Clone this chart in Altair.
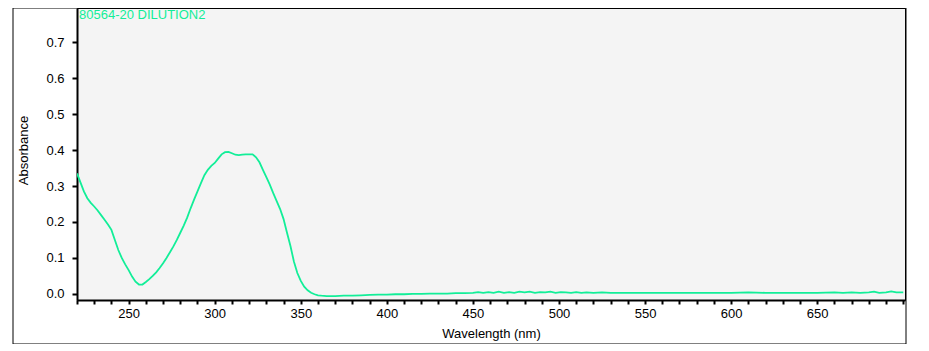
import altair as alt
import pandas as pd

# Wavelength (nm) and absorbance
wavelength = [220, 222, 224, 226, 228, 230, 232, 234, 236, 238, 240, 242, 244, 246, 248,
              250, 252, 254, 256, 258, 260, 262, 264, 266, 268, 270, 272, 274, 276, 278,
              280, 282, 284, 286, 288, 290, 292, 294, 296, 298, 300, 302, 304, 306, 308,
              310, 312, 314, 316, 318, 320, 322, 324, 326, 328, 330, 332, 334, 336, 338,
              340, 342, 344, 346, 348, 350, 352, 354, 356, 358, 360, 362, 365, 370, 375,
              380, 385, 390, 395, 400, 405, 410, 415, 420, 425, 430, 435, 440, 445, 450,
              453, 456, 459, 462, 465, 468, 471, 474, 477, 480, 483, 486, 489, 492, 495,
              498, 501, 504, 507, 510, 513, 516, 520, 525, 530, 540, 550, 560, 570, 580,
              590, 600, 610, 620, 630, 640, 650, 660, 665, 670, 675, 680, 683, 686, 690,
              693, 696, 700]
absorbance = [0.335, 0.310, 0.285, 0.266, 0.253, 0.243, 0.232, 0.219, 0.206, 0.193, 0.178, 0.150, 0.122, 0.100, 0.082,
              0.066, 0.048, 0.034, 0.026, 0.026, 0.033, 0.041, 0.050, 0.060, 0.072, 0.085, 0.100, 0.116, 0.132, 0.150,
              0.170, 0.190, 0.212, 0.238, 0.262, 0.285, 0.308, 0.330, 0.345, 0.356, 0.364, 0.376, 0.388, 0.394, 0.395,
              0.391, 0.387, 0.386, 0.387, 0.388, 0.388, 0.388, 0.380, 0.366, 0.345, 0.325, 0.304, 0.280, 0.258, 0.236,
              0.208, 0.170, 0.133, 0.090, 0.058, 0.036, 0.020, 0.010, 0.003, -0.001, -0.004, -0.005, -0.006, -0.006, -0.005,
              -0.005, -0.004, -0.003, -0.002, -0.002, -0.001, -0.001, 0.000, 0.000, 0.001, 0.001, 0.001, 0.002, 0.002, 0.003,
              0.005, 0.003, 0.005, 0.003, 0.006, 0.003, 0.005, 0.003, 0.006, 0.004, 0.006, 0.003, 0.005, 0.004, 0.006,
              0.003, 0.005, 0.004, 0.003, 0.005, 0.003, 0.004, 0.003, 0.004, 0.003, 0.003, 0.003, 0.003, 0.003, 0.003,
              0.003, 0.003, 0.004, 0.003, 0.003, 0.003, 0.003, 0.004, 0.003, 0.004, 0.003, 0.004, 0.006, 0.003, 0.004,
              0.007, 0.004, 0.004]

y_ticks = [0.0, 0.1, 0.2, 0.3, 0.4, 0.5, 0.6, 0.7]
x_ticks = list(range(220, 701, 10))
sample_title = "80564-20 DILUTION2"

GREEN = "#12ee98"
FONT = "Liberation Sans"

df = pd.DataFrame({"wl": wavelength, "abs": absorbance})

line = alt.Chart(df).mark_line(color=GREEN, strokeWidth=1.8, clip=True).encode(
    x=alt.X("wl:Q", scale=alt.Scale(domain=[220, 701], nice=False, zero=False),
            axis=alt.Axis(values=x_ticks, format="d",
                          labelExpr="(datum.value % 50 == 0 && datum.value < 700) ? datum.label : ''",
                          title="Wavelength (nm)", grid=False,
                          tickSize=4, tickWidth=2, tickColor="black",
                          domainColor="black", domainWidth=2,
                          labelPadding=3, labelFont=FONT, labelFontSize=13, labelColor="black",
                          titleFont=FONT, titleFontSize=13, titleFontWeight="normal",
                          titleColor="black", titleBaseline="middle", titleY=33)),
    y=alt.Y("abs:Q", scale=alt.Scale(domain=[-0.017, 0.795], nice=False, zero=False),
            axis=alt.Axis(values=y_ticks, format=".1f", title="Absorbance", grid=False,
                          tickSize=5, tickWidth=2, tickColor="black",
                          domainColor="black", domainWidth=2,
                          labelPadding=8, labelFont=FONT, labelFontSize=13, labelColor="black",
                          titleFont=FONT, titleFontSize=13, titleFontWeight="normal",
                          titleColor="black", titleAngle=-90, titleBaseline="middle",
                          titleAlign="center", titleX=-54, titleY=142)),
)

one = pd.DataFrame({"t": [sample_title]})

label = alt.Chart(one).mark_text(align="left", baseline="top", color=GREEN,
                                  font=FONT, fontSize=13).encode(
    x=alt.value(2), y=alt.value(1), text="t:N")

frame = alt.Chart(one).mark_rect(fillOpacity=0, stroke="black", strokeWidth=1, clip=False).encode(
    x=alt.value(-64), x2=alt.value(829), y=alt.value(0), y2=alt.value(336))

chart = alt.layer(line, label, frame).properties(
    width=828, height=292,
    autosize=alt.AutoSizeParams(type="none"),
    padding={"left": 69, "top": 0, "right": 12, "bottom": 44},
    background="white",
).configure_view(fill="#f4f4f4", stroke="black", strokeWidth=1)

chart.save("out.html", embed_options={"renderer": "svg", "actions": False})
